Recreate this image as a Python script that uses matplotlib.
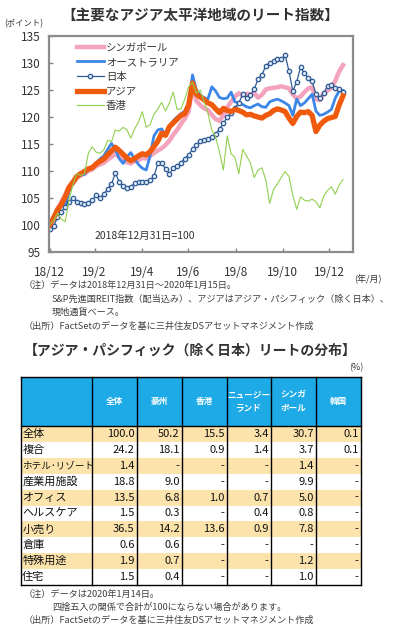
import matplotlib
matplotlib.use("Agg")
import matplotlib.pyplot as plt
from matplotlib.patches import Rectangle
import pandas as pd

plt.rcParams["font.family"] = ["Noto Sans CJK JP", "DejaVu Sans"]

# ---- line chart data (5-day steps, 2018-12-31 .. 2020-01-15) ----
dates = pd.date_range("2018-12-31", periods=77, freq="5D")

singapore = [100, 101.5, 103, 104.3, 105.6, 107, 107.8, 108.7, 109.2, 109.5,
             110, 110.3, 110.9, 111.2, 111.5, 112.1, 112.6, 113.2, 112.6, 112.1,
             111.6, 111.4, 111.8, 112, 112.4, 112.3, 112.8, 113.3, 113.8, 114.2,
             114.8, 115.6, 116.7, 117.6, 118.7, 119.7, 121, 125.8, 123, 122.2,
             121.6, 121.3, 120.4, 119.6, 119.3, 120.3, 121.8, 122.8, 123.8, 124.4,
             124, 124.3, 124.2, 124.4, 123.6, 124.1, 125.1, 125.3, 125.4, 125.5,
             125.7, 125.5, 125.3, 124.2, 123.4, 123.8, 124.6, 125.3, 125.5, 123.3,
             123.1, 124.4, 124.9, 125.4, 126.7, 128.4, 129.6]
australia = [100, 101.4, 102.8, 103.6, 103.5, 106.2, 107.6, 108.8, 109.2, 109.4,
             110.2, 110.7, 111.5, 112.2, 112.8, 114, 115.1, 114, 112.3, 111.4,
             112.6, 113.4, 112.2, 111.2, 110.5, 110.2, 112.8, 116.5, 117.6, 117.8,
             116.6, 118.3, 119.3, 120, 120.6, 121.1, 122.6, 127.8, 125, 124,
             123.6, 123.3, 125.6, 124.8, 123.6, 123.4, 123.5, 124.6, 122.8, 122.6,
             122.3, 121.9, 121.7, 122.1, 122.4, 121.9, 121.8, 122.8, 123.1, 123.3,
             123, 122.6, 122.1, 120.3, 123.3, 122.1, 122.6, 123.4, 124.2, 121.1,
             120.3, 120.5, 120.9, 121.4, 123.5, 124.8, 124.9]
japan = [99.2, 99.8, 101.4, 102.5, 103.4, 104.2, 105, 104.3, 104, 103.9,
         104.1, 104.6, 105.5, 105, 105.7, 106.7, 107.6, 109.6, 108, 107.2,
         106.9, 107.1, 107.7, 108, 107.9, 108, 108.3, 109, 111.4, 111.4,
         110.4, 109.5, 110.5, 110.9, 111.5, 112.3, 113, 114, 114.8, 115.5,
         115.7, 115.9, 116.3, 116.9, 117.7, 118.8, 120, 120.7, 121.7, 122.6,
         124.2, 123.6, 124, 125.2, 127, 127.8, 129.5, 130, 130.3, 130.8,
         130.7, 131.5, 128.5, 124.8, 126.5, 129.2, 128.1, 127.2, 126.6, 124.2,
         123.5, 124.4, 125.8, 125.9, 125.3, 125.1, 124.6]
asia = [100, 101.3, 102.8, 103.8, 105.2, 107, 107.9, 109, 109.5, 109.9,
        110.4, 110.6, 111.3, 111.8, 112.2, 113, 113.7, 114.4, 113.8, 113.1,
        112.4, 111.9, 112.3, 112.8, 113.2, 113, 113.6, 114.5, 115.5, 117,
        116.6, 118.2, 118.9, 119.6, 120.3, 120.6, 122.2, 126.3, 124.2, 123.7,
        123.2, 122.6, 122.3, 121.5, 120.8, 121.6, 121.2, 121, 121.4, 121.2,
        120.9, 120.4, 120.5, 120.2, 120, 119.8, 120.3, 120.6, 121.2, 121.5,
        121.3, 121, 119.8, 118.8, 120.1, 120.9, 120.8, 121, 120.3, 117.3,
        118.5, 119.2, 119.7, 119.9, 120.1, 122.2, 123.9]
hongkong = [100, 100.8, 102.2, 101.1, 100.6, 104.6, 107.5, 109.5, 109.2, 109.5,
            113.3, 114.5, 113.5, 113.3, 113.9, 115.7, 115.4, 117.6, 117.4, 118.1,
            117.6, 116.1, 117.8, 119.1, 121, 118.1, 118.6, 120.5, 121.5, 122.7,
            121.1, 122.6, 124.6, 121.4, 121.5, 123.3, 125.6, 126.4, 124.4, 125,
            122.8, 120.7, 117.6, 116.3, 113.5, 110.2, 116.5, 113.2, 112.5, 109.5,
            114, 112.8, 111.5, 108.8, 110.2, 110.6, 108.3, 104, 106.6, 107.6,
            108.8, 109.9, 109, 105.5, 102.9, 105.2, 104.6, 104.4, 104.8, 104.3,
            103.2, 105.3, 106.4, 107.1, 105.7, 107.4, 108.4]

tick_dates = pd.to_datetime(["2018-12-31", "2019-02-27", "2019-04-29", "2019-06-28",
                             "2019-08-29", "2019-10-29", "2019-12-28"])
tick_labels = ["18/12", "19/2", "19/4", "19/6", "19/8", "19/10", "19/12"]
y_ticks = [95, 100, 105, 110, 115, 120, 125, 130, 135]

# ---- table data ----
col_labels = ["全体", "豪州", "香港", "ニュージー\nランド", "シンガ\nポール", "韓国"]
row_labels = ["全体", "複合", "ホテル･リゾート", "産業用施設", "オフィス",
              "ヘルスケア", "小売り", "倉庫", "特殊用途", "住宅"]
cells = [
    ["100.0", "50.2", "15.5", "3.4", "30.7", "0.1"],
    ["24.2", "18.1", "0.9", "1.4", "3.7", "0.1"],
    ["1.4", "-", "-", "-", "1.4", "-"],
    ["18.8", "9.0", "-", "-", "9.9", "-"],
    ["13.5", "6.8", "1.0", "0.7", "5.0", "-"],
    ["1.5", "0.3", "-", "0.4", "0.8", "-"],
    ["36.5", "14.2", "13.6", "0.9", "7.8", "-"],
    ["0.6", "0.6", "-", "-", "-", "-"],
    ["1.9", "0.7", "-", "-", "1.2", "-"],
    ["1.5", "0.4", "-", "-", "1.0", "-"],
]

W, H = 394, 632
fig = plt.figure(figsize=(W / 100, H / 100), dpi=100)

# overlay in pixel coordinates for texts and the table
bg = fig.add_axes([0, 0, 1, 1])
bg.set_xlim(0, W)
bg.set_ylim(H, 0)
bg.axis("off")

txt = "#333333"
bg.text(200, 16, "【主要なアジア太平洋地域のリート指数】", ha="center", va="center",
        fontsize=10.5, fontweight="bold", color=txt)
bg.text(4, 24, "(ポイント)", ha="left", va="center", fontsize=6, color=txt)
bg.text(368, 279, "(年/月)", ha="center", va="center", fontsize=6.5, color=txt)

# ---- line chart ----
ax = fig.add_axes([49 / W, 1 - 252 / H, 304 / W, 216 / H])
ax.plot(dates, singapore, color="#F4A3BC", lw=3.2, label="シンガポール")
ax.plot(dates, australia, color="#3B86E6", lw=2.0, label="オーストラリア")
ax.plot(dates, japan, color="#2E5A96", lw=0.9, marker="o", ms=3.2, mfc="#DCE6F2",
        mec="#2E5A96", mew=0.9, label="日本")
ax.plot(dates, asia, color="#F05A0C", lw=3.8, label="アジア")
ax.plot(dates, hongkong, color="#92D050", lw=0.8, label="香港")

ax.set_ylim(95, 135)
ax.set_yticks(y_ticks)
ax.set_xlim(pd.Timestamp("2018-12-30"), pd.Timestamp("2020-01-28"))
ax.set_xticks(tick_dates)
ax.set_xticklabels(tick_labels)
ax.tick_params(direction="in", length=3, width=1, color="#808080",
               labelsize=8.5, labelcolor=txt, pad=10)
ax.tick_params(axis="y", pad=6)
for s in ax.spines.values():
    s.set_color("#8C8C8C")
    s.set_linewidth(1.6)
ax.text(0.15, 0.075, "2018年12月31日=100", transform=ax.transAxes,
        fontsize=7.5, color=txt, ha="left", va="center")
leg = ax.legend(loc="upper left", bbox_to_anchor=(0.07, 1.0), frameon=False,
                fontsize=7.5, handlelength=2.6, handletextpad=0.2,
                labelspacing=0.45, borderaxespad=0.2)
for t in leg.get_texts():
    t.set_color(txt)

# ---- notes for chart ----
note = "#404040"
fs_note = 6.6
bg.text(24, 286, "（注）データは2018年12月31日～2020年1月15日。", fontsize=fs_note,
        color=note, va="center")
bg.text(52, 299, "S&P先進国REIT指数（配当込み）、アジアはアジア・パシフィック（除く日本）、",
        fontsize=fs_note, color=note, va="center")
bg.text(52, 312, "現地通貨ベース。", fontsize=fs_note, color=note, va="center")
bg.text(24, 326, "（出所）FactSetのデータを基に三井住友DSアセットマネジメント作成",
        fontsize=fs_note, color=note, va="center")

# ---- table ----
bg.text(190, 351, "【アジア・パシフィック（除く日本）リートの分布】", ha="center",
        va="center", fontsize=10, fontweight="bold", color=txt)
bg.text(356, 368, "(%)", ha="center", va="center", fontsize=6.5, color=txt)

col_x = [20.7, 91.7, 136.7, 181.7, 226.7, 270.7, 315.7, 360.7]
head_top, head_bot = 377, 426
row_h = 15.9
head_color = "#1EAAE6"
band_color = "#FCE3AC"

bg.add_patch(Rectangle((col_x[0], head_top), col_x[-1] - col_x[0], head_bot - head_top,
                       facecolor=head_color, edgecolor="none"))
for j, lab in enumerate(col_labels):
    cx = (col_x[j + 1] + col_x[j + 2]) / 2
    bg.text(cx, (head_top + head_bot) / 2, lab, ha="center", va="center",
            fontsize=6.2, fontweight="bold", color="white", linespacing=1.7)

for i, (lab, vals) in enumerate(zip(row_labels, cells)):
    y0 = head_bot + i * row_h
    if i % 2 == 0:
        bg.add_patch(Rectangle((col_x[0], y0), col_x[-1] - col_x[0], row_h,
                               facecolor=band_color, edgecolor="none"))
    yc = y0 + row_h / 2
    # the long label is squeezed so it stays inside its column
    fs_lab = 6.9 if len(lab) > 6 else 8
    bg.text(col_x[0] + 1.5, yc, lab, ha="left", va="center", fontsize=fs_lab,
            color="#111111")
    for j, v in enumerate(vals):
        bg.text(col_x[j + 2] - 2, yc, v, ha="right", va="center", fontsize=8,
                color="#111111")

table_bot = head_bot + len(row_labels) * row_h
for xx in col_x:
    bg.plot([xx, xx], [head_top, table_bot], color="black", lw=1.0)
bg.plot([col_x[0], col_x[-1]], [head_top, head_top], color="black", lw=1.0)
bg.plot([col_x[0], col_x[-1]], [head_bot, head_bot], color="black", lw=1.0)
bg.plot([col_x[0], col_x[-1]], [table_bot, table_bot], color="black", lw=1.0)

# ---- notes for table ----
bg.text(24, 595, "（注）データは2020年1月14日。", fontsize=fs_note, color=note, va="center")
bg.text(52, 607, "四捨五入の関係で合計が100にならない場合があります。", fontsize=fs_note,
        color=note, va="center")
bg.text(24, 620, "（出所）FactSetのデータを基に三井住友DSアセットマネジメント作成",
        fontsize=fs_note, color=note, va="center")

fig.savefig("out.png", dpi=100)
